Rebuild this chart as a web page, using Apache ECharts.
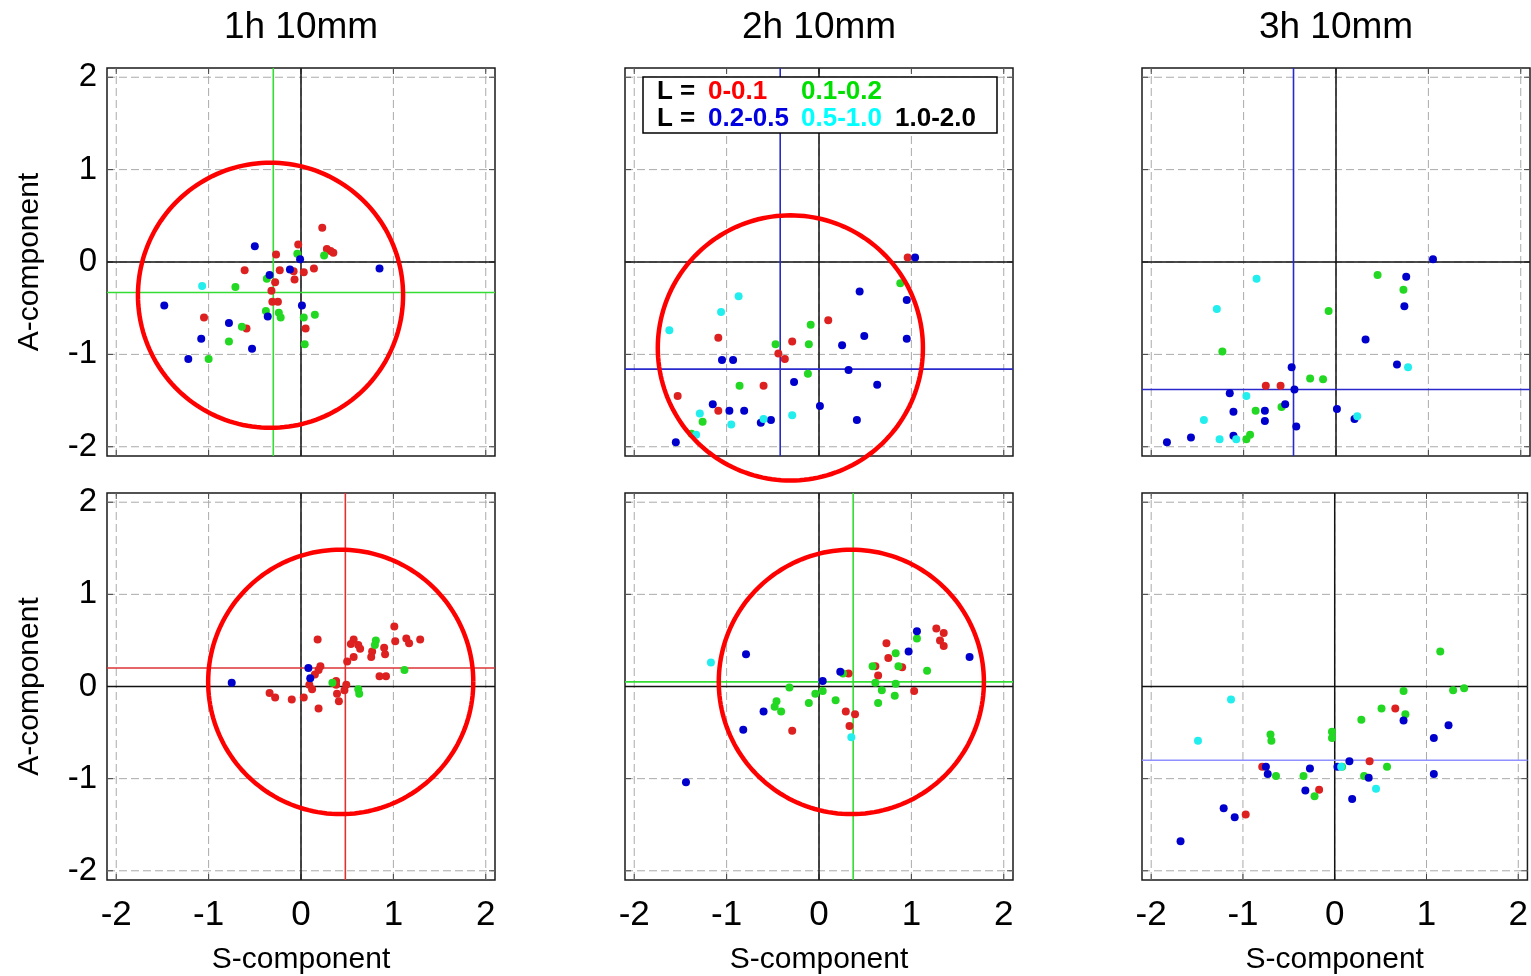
<!DOCTYPE html>
<html>
<head>
<meta charset="utf-8">
<script src="https://cdn.jsdelivr.net/npm/echarts@6/dist/echarts.min.js"></script>
<style>html,body{margin:0;padding:0;background:#fff}#c{width:1531px;height:976px}</style>
</head>
<body>
<div id="c"></div>
<script>
// ---------------- data ----------------
const titles = ['1h 10mm', '2h 10mm', '3h 10mm'];
const tickValues = [-2, -1, 0, 1, 2];
const axisMin = -2.1, axisMax = 2.1;

const p1Red = [[0.23,0.37],[-0.03,0.19],[0.28,0.14],[0.35,0.10],[0.32,0.12],[-0.27,0.08],[-0.61,-0.09],[-0.23,-0.09],[-0.08,-0.10],[0.03,-0.11],[0.14,-0.07],[-0.07,-0.19],[-0.28,-0.22],[-0.32,-0.31],[-0.31,-0.43],[-0.25,-0.43],[-1.05,-0.60],[-0.59,-0.72],[0.05,-0.72]];
const p1Green = [[-0.04,0.09],[0.25,0.07],[-0.37,-0.18],[-0.71,-0.27],[-0.38,-0.53],[-0.24,-0.55],[-0.22,-0.60],[0.03,-0.60],[0.15,-0.57],[-0.64,-0.70],[-0.78,-0.86],[0.04,-0.89],[-1.00,-1.05]];
const p1Blue = [[-0.50,0.17],[-0.01,0.03],[-0.12,-0.08],[-0.34,-0.14],[0.85,-0.07],[-1.48,-0.47],[0.01,-0.47],[-0.36,-0.59],[-0.78,-0.66],[-1.08,-0.83],[-0.53,-0.94],[-1.22,-1.05]];
const p1Cyan = [[-1.07,-0.26]];

const p2Red = [[0.96,0.05],[0.10,-0.63],[-1.09,-0.82],[-0.29,-0.86],[-0.44,-0.99],[-0.37,-1.05],[-0.60,-1.34],[-1.53,-1.45],[-1.09,-1.61]];
const p2Green = [[0.88,-0.23],[-0.09,-0.68],[-0.47,-0.89],[-0.11,-0.89],[-0.12,-1.21],[-0.86,-1.34],[-1.26,-1.73],[-1.38,-1.86]];
const p2Blue = [[1.04,0.05],[0.44,-0.32],[0.95,-0.41],[0.49,-0.80],[0.95,-0.83],[0.25,-0.90],[-1.05,-1.06],[-0.93,-1.06],[0.32,-1.17],[-0.27,-1.30],[0.63,-1.33],[0.01,-1.56],[-1.15,-1.54],[-0.97,-1.61],[-0.81,-1.61],[-0.52,-1.71],[-0.63,-1.74],[0.41,-1.71],[-1.55,-1.95]];
const p2Cyan = [[-0.87,-0.37],[-1.06,-0.54],[-1.62,-0.74],[-1.29,-1.64],[-0.95,-1.76],[-0.60,-1.70],[-0.29,-1.66],[-1.33,-1.87]];

const p3Red = [[-0.76,-1.34],[-0.60,-1.34]];
const p3Green = [[0.45,-0.14],[0.73,-0.30],[-0.08,-0.53],[-1.23,-0.97],[-0.28,-1.26],[-0.14,-1.27],[-0.59,-1.57],[-0.87,-1.61],[-0.93,-1.87],[-0.97,-1.92]];
const p3Blue = [[1.05,0.03],[0.76,-0.16],[0.74,-0.48],[0.32,-0.84],[0.66,-1.11],[-0.48,-1.14],[-0.45,-1.38],[-1.15,-1.42],[-0.55,-1.54],[0.01,-1.59],[0.20,-1.70],[-1.11,-1.62],[-0.77,-1.61],[-0.77,-1.72],[-0.43,-1.78],[-1.11,-1.88],[-1.57,-1.90],[-1.83,-1.95]];
const p3Cyan = [[-0.86,-0.18],[-1.29,-0.51],[0.78,-1.14],[-0.97,-1.45],[-1.43,-1.71],[-1.26,-1.92],[-1.08,-1.92],[0.23,-1.67]];

const p4Red = [[1.01,0.65],[0.18,0.51],[0.57,0.51],[0.54,0.46],[0.62,0.45],[0.64,0.41],[1.02,0.49],[1.14,0.52],[1.17,0.47],[1.29,0.51],[0.90,0.42],[0.91,0.35],[0.77,0.38],[0.76,0.32],[0.57,0.32],[0.50,0.27],[0.21,0.22],[0.19,0.18],[0.15,0.13],[0.85,0.11],[0.92,0.11],[0.09,0.02],[0.12,-0.03],[0.38,0.06],[0.38,0.02],[0.49,0.02],[0.47,-0.04],[0.39,-0.08],[0.41,-0.16],[-0.34,-0.07],[-0.28,-0.12],[-0.10,-0.14],[0.03,-0.12],[0.19,-0.24]];
const p4Green = [[0.81,0.50],[0.80,0.45],[1.12,0.18],[0.34,0.04],[0.62,-0.03],[0.63,-0.08]];
const p4Blue = [[0.08,0.20],[0.10,0.09],[-0.75,0.04]];
const p4Cyan = [];

const p5Red = [[1.27,0.63],[1.35,0.58],[1.31,0.50],[1.35,0.44],[0.73,0.47],[0.75,0.31],[0.61,0.22],[0.90,0.21],[0.64,0.12],[0.32,0.14],[1.03,-0.05],[0.29,-0.27],[0.39,-0.30],[0.33,-0.43],[-0.29,-0.48]];
const p5Green = [[1.06,0.52],[0.83,0.36],[0.58,0.22],[0.86,0.22],[1.17,0.17],[0.26,0.14],[0.61,0.04],[0.83,0.03],[0.68,-0.04],[0.82,-0.10],[0.64,-0.18],[-0.32,-0.01],[0.04,-0.05],[-0.04,-0.08],[0.18,-0.15],[-0.11,-0.18],[-0.46,-0.16],[-0.48,-0.22],[-0.41,-0.27]];
const p5Blue = [[1.06,0.60],[0.97,0.38],[1.63,0.32],[-0.79,0.35],[0.23,0.16],[0.04,0.06],[-0.60,-0.27],[-0.82,-0.47],[-1.44,-1.04]];
const p5Cyan = [[-1.17,0.26],[0.35,-0.55]];

const p6Red = [[0.66,-0.24],[0.38,-0.81],[-0.79,-0.87],[-0.17,-1.12],[-0.97,-1.39]];
const p6Green = [[1.15,0.38],[1.29,-0.04],[1.41,-0.02],[0.75,-0.05],[0.51,-0.24],[0.77,-0.30],[0.29,-0.36],[-0.03,-0.49],[-0.03,-0.56],[-0.70,-0.52],[-0.69,-0.59],[0.57,-0.87],[0.08,-0.87],[0.32,-0.97],[-0.64,-0.97],[-0.34,-0.97],[-0.22,-1.19]];
const p6Blue = [[0.75,-0.37],[1.24,-0.42],[1.08,-0.56],[1.08,-0.95],[0.16,-0.81],[0.03,-0.87],[0.37,-0.99],[-0.27,-0.89],[-0.75,-0.87],[-0.73,-0.95],[-0.32,-1.13],[0.19,-1.22],[-1.21,-1.32],[-1.09,-1.42],[-1.68,-1.68]];
const p6Cyan = [[-1.13,-0.14],[-1.49,-0.59],[0.45,-1.11],[0.07,-0.87]];

// mean lines per panel (null = no line)
const meanX = [-0.30, -0.42, -0.46, 0.48, 0.37, null];
const meanY = [-0.33, -1.16, -1.38, 0.20, 0.05, -0.80];
// circles per panel: [centerX, centerY, radius] or null
const circles = [[-0.33,-0.36,1.435],[-0.31,-0.93,1.435],null,[0.43,0.05,1.435],[0.35,0.05,1.435],null];

const legendRow1 = [['L =','#000'],['0-0.1','#ff0000'],['0.1-0.2','#00e000']];
const legendRow2 = [['L =','#000'],['0.2-0.5','#0000e0'],['0.5-1.0','#00ffff'],['1.0-2.0','#000']];

// ---------------- styling / layout ----------------
const FONT = '"Liberation Sans", Arial, Helvetica, sans-serif';
const colLeft = [107, 625, 1142];
const rowTop = [68, 493];
const W = 388, H = 388;
const meanColors = ['#33dd33', '#2a2acc', '#2a2acc', '#dd3333', '#33dd33', '#9090ff'];
const dotColors = { red: '#dd2020', green: '#22d822', blue: '#0000cc', cyan: '#22eeee' };

const panels = [
  { red: p1Red, green: p1Green, blue: p1Blue, cyan: p1Cyan },
  { red: p2Red, green: p2Green, blue: p2Blue, cyan: p2Cyan },
  { red: p3Red, green: p3Green, blue: p3Blue, cyan: p3Cyan },
  { red: p4Red, green: p4Green, blue: p4Blue, cyan: p4Cyan },
  { red: p5Red, green: p5Green, blue: p5Blue, cyan: p5Cyan },
  { red: p6Red, green: p6Green, blue: p6Blue, cyan: p6Cyan }
];

function gridRender(params, api) {
  const v = api.value(0);
  const a = api.coord([v, axisMin]), b = api.coord([v, axisMax]);
  const c = api.coord([axisMin, v]), d = api.coord([axisMax, v]);
  const dash = { stroke: '#aaaaaa', lineWidth: 1, lineDash: [8, 4] };
  const tk = { stroke: '#444', lineWidth: 1 };
  const L = 6;
  return { type: 'group', children: [
    { type: 'line', shape: { x1: a[0], y1: a[1], x2: b[0], y2: b[1] }, style: dash },
    { type: 'line', shape: { x1: c[0], y1: c[1], x2: d[0], y2: d[1] }, style: dash },
    { type: 'line', shape: { x1: a[0], y1: a[1], x2: a[0], y2: a[1] - L }, style: tk },
    { type: 'line', shape: { x1: b[0], y1: b[1], x2: b[0], y2: b[1] + L }, style: tk },
    { type: 'line', shape: { x1: c[0], y1: c[1], x2: c[0] + L, y2: c[1] }, style: tk },
    { type: 'line', shape: { x1: d[0], y1: d[1], x2: d[0] - L, y2: d[1] }, style: tk }
  ]};
}
function crossRender(color, width, showV, showH) {
  return function (params, api) {
    const x = api.value(0), y = api.value(1);
    const ch = [];
    const st = { stroke: color, lineWidth: width };
    if (showV) {
      const a = api.coord([x, axisMin]), b = api.coord([x, axisMax]);
      ch.push({ type: 'line', shape: { x1: a[0], y1: a[1], x2: b[0], y2: b[1] }, style: st });
    }
    if (showH) {
      const c = api.coord([axisMin, y]), d = api.coord([axisMax, y]);
      ch.push({ type: 'line', shape: { x1: c[0], y1: c[1], x2: d[0], y2: d[1] }, style: st });
    }
    return { type: 'group', children: ch };
  };
}
function circleRender(params, api) {
  const cx = api.value(0), cy = api.value(1), r = api.value(2);
  const pts = [];
  for (let k = 0; k <= 180; k++) {
    const t = k / 180 * 2 * Math.PI;
    pts.push(api.coord([cx + r * Math.cos(t), cy + r * Math.sin(t)]));
  }
  return { type: 'polyline', shape: { points: pts }, style: { stroke: '#ff0000', lineWidth: 4.5, fill: null } };
}

const grids = [], xAxes = [], yAxes = [], series = [];
panels.forEach((p, i) => {
  const row = Math.floor(i / 3), col = i % 3;
  grids.push({ left: colLeft[col], top: rowTop[row], width: W, height: H, show: true,
    borderColor: '#1a1a1a', borderWidth: 1.5, backgroundColor: 'transparent' });
  xAxes.push({ gridIndex: i, type: 'value', min: axisMin, max: axisMax,
    axisLine: { show: false }, axisTick: { show: false }, splitLine: { show: false },
    axisLabel: { show: row === 1, customValues: tickValues, fontSize: 35, color: '#000', margin: 18, fontFamily: FONT },
    name: row === 1 ? 'S-component' : '', nameLocation: 'middle', nameGap: 65,
    nameTextStyle: { fontSize: 30, color: '#000', fontFamily: FONT } });
  yAxes.push({ gridIndex: i, type: 'value', min: axisMin, max: axisMax,
    axisLine: { show: false }, axisTick: { show: false }, splitLine: { show: false },
    axisLabel: { show: col === 0, customValues: tickValues, fontSize: 33, color: '#000', margin: 10, fontFamily: FONT },
    name: col === 0 ? 'A-component' : '', nameLocation: 'middle', nameGap: 62, nameRotate: 90,
    nameTextStyle: { fontSize: 30, color: '#000', fontFamily: FONT } });

  const base = { xAxisIndex: i, yAxisIndex: i, silent: true, animation: false };
  series.push(Object.assign({ type: 'custom', data: tickValues.map(v => [v, v]), renderItem: gridRender, z: 1, clip: false }, base));
  series.push(Object.assign({ type: 'custom', data: [[0, 0]], renderItem: crossRender('#111', 1.5, true, true), z: 2, clip: false }, base));
  series.push(Object.assign({ type: 'custom', data: [[meanX[i] === null ? 0 : meanX[i], meanY[i]]],
    renderItem: crossRender(meanColors[i], 1.6, meanX[i] !== null, meanY[i] !== null), z: 3, clip: false }, base));
  ['red', 'green', 'blue', 'cyan'].forEach(k => {
    series.push(Object.assign({ type: 'scatter', data: p[k], symbolSize: 8, itemStyle: { color: dotColors[k], opacity: 1 }, z: 4 }, base));
  });
  if (circles[i]) {
    series.push(Object.assign({ type: 'custom', data: [circles[i]], renderItem: circleRender, z: 6, clip: false }, base));
  }
});

// titles and legend as graphic text
const graphics = [];
titles.forEach((t, c) => {
  graphics.push({ type: 'text', x: colLeft[c] + W / 2, y: 28, z: 100,
    style: { text: t, fontSize: 37, fontFamily: FONT, fill: '#000', textAlign: 'center', textVerticalAlign: 'middle' } });
});
graphics.push({ type: 'rect', z: 100, shape: { x: 643, y: 77, width: 354, height: 56 },
  style: { fill: '#fff', stroke: '#000', lineWidth: 1.5 } });
const legendX = [657, 708, 801, 895];
legendRow1.forEach((it, k) => {
  graphics.push({ type: 'text', z: 101, x: legendX[k], y: 92,
    style: { text: it[0], fill: it[1], fontSize: 26, fontWeight: 'bold', fontFamily: FONT, textVerticalAlign: 'middle' } });
});
legendRow2.forEach((it, k) => {
  graphics.push({ type: 'text', z: 101, x: legendX[k], y: 119,
    style: { text: it[0], fill: it[1], fontSize: 26, fontWeight: 'bold', fontFamily: FONT, textVerticalAlign: 'middle' } });
});

const chart = echarts.init(document.getElementById('c'), null, { renderer: 'canvas' });
chart.setOption({
  animation: false,
  backgroundColor: '#fff',
  grid: grids, xAxis: xAxes, yAxis: yAxes, series: series,
  graphic: { elements: graphics }
});
</script>
</body>
</html>
